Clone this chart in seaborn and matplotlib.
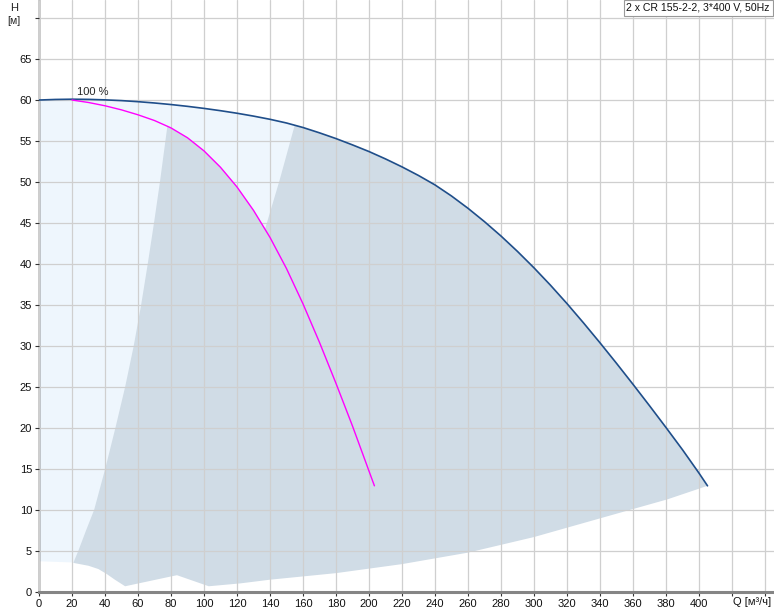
import numpy as np
import matplotlib
matplotlib.use('Agg')
import matplotlib.pyplot as plt
import matplotlib.transforms as mtransforms
import seaborn as sns

# Main pump curve (2 pumps), Q [m3/h] vs H [m]
main_q = [0, 10, 20, 30, 40, 50, 60, 70, 80, 90, 100, 110, 120, 130, 140, 150,
          160, 170, 180, 190, 200, 210, 220, 230, 240, 250, 260, 270, 280, 290,
          300, 310, 320, 330, 340, 350, 360, 370, 380, 390, 400, 405.2]
main_h = [60.0, 60.07, 60.1, 60.08, 60.02, 59.93, 59.8, 59.64, 59.45, 59.23,
          58.98, 58.7, 58.39, 58.04, 57.65, 57.2, 56.65, 56.0, 55.3, 54.53,
          53.72, 52.82, 51.85, 50.8, 49.65, 48.3, 46.8, 45.17, 43.42, 41.54,
          39.54, 37.42, 35.18, 32.83, 30.4, 27.9, 25.34, 22.73, 20.07, 17.36,
          14.51, 12.95]

# Single pump curve (100 %)
pump_q = [20, 30, 40, 50, 60, 70, 77.8, 80, 90, 100, 110, 120, 130, 140, 150,
          160, 170, 180, 190, 203.3]
pump_h = [60.0, 59.7, 59.3, 58.8, 58.2, 57.5, 56.8, 56.6, 55.4, 53.8, 51.8,
          49.4, 46.55, 43.25, 39.45, 35.15, 30.45, 25.45, 20.25, 12.95]

# Operating range boundaries
left_q = [20.8, 23.8, 28.5, 33.4, 40.1, 46.3, 52.2, 57.4, 61.9, 65.9, 69.7,
          73.3, 77.8]
left_h = [3.55, 5.0, 7.5, 10.0, 15.0, 20.0, 25.0, 30.0, 35.0, 40.0, 45.0,
          50.0, 56.8]
wedge_q = [137.0, 145.8, 155]
wedge_h = [44.25, 50.2, 56.93]
low_q = [20.8, 30, 36, 41, 46, 52.2, 83.6, 102.9, 122, 140, 180, 220, 260,
         300, 340.4, 380.9, 405.2]
low_h = [3.55, 3.2, 2.8, 2.2, 1.5, 0.7, 2.05, 0.7, 1.05, 1.5, 2.3, 3.4, 4.8,
         6.7, 9.0, 11.3, 12.95]
light_q = [0, 20.8]
light_h = [3.75, 3.6]

x_ticks = list(range(0, 441, 20))
x_labels = [str(v) if v <= 400 else '' for v in x_ticks]
y_ticks = list(range(0, 71, 5))
y_labels = [str(v) if v <= 65 else '' for v in y_ticks]

sns.set_style('white')
plt.rcParams['font.family'] = ['Liberation Sans', 'DejaVu Sans']

fig = plt.figure(figsize=(7.74, 6.11), dpi=100)
ax = fig.add_axes([39 / 774, 19 / 611, 735 / 774, 592 / 611])

main_q_a = np.array(main_q)
main_h_a = np.array(main_h)

# light blue area (one pump range)
mask = main_q_a <= 160
lq = np.concatenate([light_q[:1], main_q_a[mask], [160, light_q[1]]])
lh = np.concatenate([light_h[:1], main_h_a[mask], [light_h[1], light_h[1]]])
ax.fill(lq, lh, color='#eef6fd', lw=0, zorder=0.5)

# grey area (two pump range)
pq = np.array(pump_q)
ph = np.array(pump_h)
pm = (pq > left_q[-1]) & (pq < wedge_q[0])
mm = main_q_a > wedge_q[-1]
gq = np.concatenate([left_q, pq[pm], wedge_q, main_q_a[mm], low_q[::-1]])
gh = np.concatenate([left_h, ph[pm], wedge_h, main_h_a[mm], low_h[::-1]])
ax.fill(gq, gh, color='#d0dce6', lw=0, zorder=0.6)

sns.lineplot(x=main_q, y=main_h, sort=False, estimator=None, color='#1f4e8a',
             lw=1.2, ax=ax, zorder=3)
sns.lineplot(x=pump_q, y=pump_h, sort=False, estimator=None, color='#ff00ff',
             lw=1.0, ax=ax, zorder=3)

ax.text(32.8, 61.0, '100 %', fontsize=8, ha='center', va='center', zorder=4)

ax.set_xlim(0, 445.5)
ax.set_ylim(0, 72.2)
ax.set_xticks(x_ticks)
ax.set_xticklabels(x_labels)
ax.set_yticks(y_ticks)
ax.set_yticklabels(y_labels)
ax.tick_params(axis='both', labelsize=8, length=3, width=0.8, color='#333333',
               labelcolor='#111111', direction='out', pad=2)
ax.tick_params(axis='x', bottom=True)
ax.tick_params(axis='y', left=True)

ax.grid(True, color='#cfcfcf', lw=0.9)
ax.set_axisbelow(False)
for gl in ax.get_xgridlines() + ax.get_ygridlines():
    gl.set_zorder(1)

for s in ['top', 'right']:
    ax.spines[s].set_visible(False)
ax.spines['left'].set_color('black')
ax.spines['left'].set_linewidth(1.0)
ax.spines['bottom'].set_color('#858585')
ax.spines['bottom'].set_linewidth(2.2)
ax.spines['bottom'].set_zorder(5)

# axis titles
trans = mtransforms.blended_transform_factory(ax.transData, ax.transAxes)
ax.text(432.5, -0.0165, 'Q [м³/ч]', transform=trans, fontsize=8,
        ha='center', va='center', color='#111111')
fig.text(14 / 774, 1 - 8 / 611, 'H', fontsize=8, ha='center', va='center',
         color='#222222')
fig.text(14 / 774, 1 - 21 / 611, '[м]', fontsize=7.5, ha='center', va='center',
         color='#222222')

# legend box
fig.text(1 - 4 / 774, 1 - 8 / 611, '2 x CR 155-2-2, 3*400 V, 50Hz', fontsize=7.6,
         ha='right', va='center', color='#111111',
         bbox=dict(boxstyle='square,pad=0.25', fc='white', ec='#999999', lw=0.8))

fig.savefig('out.png', dpi=100)
